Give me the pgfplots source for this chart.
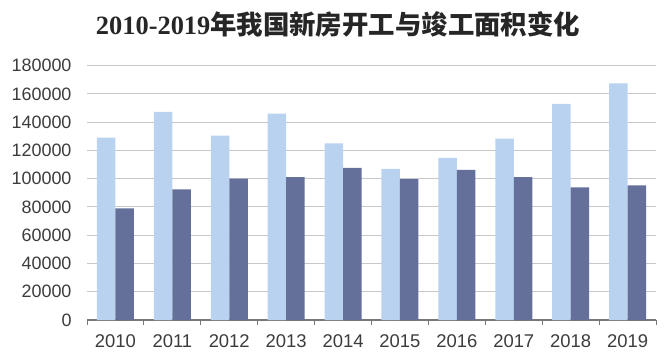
\documentclass[border=0pt]{standalone}
\usepackage{pgfplots}
\pgfplotsset{compat=1.18}
\usepackage{fontspec}
\setmainfont{Liberation Sans}
\newfontfamily\cjk{Noto Sans CJK SC}
\newfontfamily\titlenum{Liberation Serif}
\definecolor{lightbar}{RGB}{184,210,240}
\definecolor{darkbar}{RGB}{101,112,154}
\definecolor{ticktext}{RGB}{60,60,60}
\definecolor{gridc}{RGB}{200,200,200}
\definecolor{axisc}{RGB}{120,120,120}
\pgfplotstableread{
x start finish
0 129000 79000
1 147400 92500
2 130500 100000
3 146000 101200
4 125000 107600
5 106900 99800
6 114700 106200
7 128300 101200
8 152900 93900
9 167500 95300
}\datatable
\begin{document}
\begin{tikzpicture}
\useasboundingbox (0,0) rectangle (668bp,360bp);
\node[anchor=center, text=black!85] at (338bp,336bp) {\fontsize{26.5}{29}\selectfont\bfseries\titlenum 2010-2019\cjk 年我国新房开工与竣工面积变化};
\begin{axis}[
  at={(87bp,40bp)}, anchor=south west,
  scale only axis, width=569bp, height=254.3bp,
  ybar=0pt, bar width=18.5bp,
  xmin=-0.5, xmax=9.5, ymin=0, ymax=180000,
  ytick={0,20000,...,180000},
  scaled y ticks=false,
  yticklabel style={/pgf/number format/fixed, /pgf/number format/1000 sep={}, font=\fontsize{18}{20}\selectfont, text=ticktext, xshift=-12bp},
  /pgf/number format/assume math mode=true,
  xtick={0,...,9},
  xticklabels={2010,2011,2012,2013,2014,2015,2016,2017,2018,2019},
  xticklabel style={font=\fontsize{18.5}{20}\selectfont, text=ticktext, yshift=-11bp},
  minor xtick={-0.5,0.5,...,9.5},
  major tick length=0pt,
  minor tick length=5bp,
  tick align=outside,
  every minor tick/.style={axisc, line width=1pt},
  ymajorgrids, grid style={gridc, line width=1pt},
  axis x line*=bottom, axis y line*=left,
  x axis line style={axisc, line width=1.2pt, -},
  y axis line style={draw=none},
  ytick style={draw=none},
  clip=false,
]
\addplot[fill=lightbar, draw=none] table[x=x, y=start] {\datatable};
\addplot[fill=darkbar, draw=none] table[x=x, y=finish] {\datatable};
\end{axis}
\end{tikzpicture}
\end{document}
